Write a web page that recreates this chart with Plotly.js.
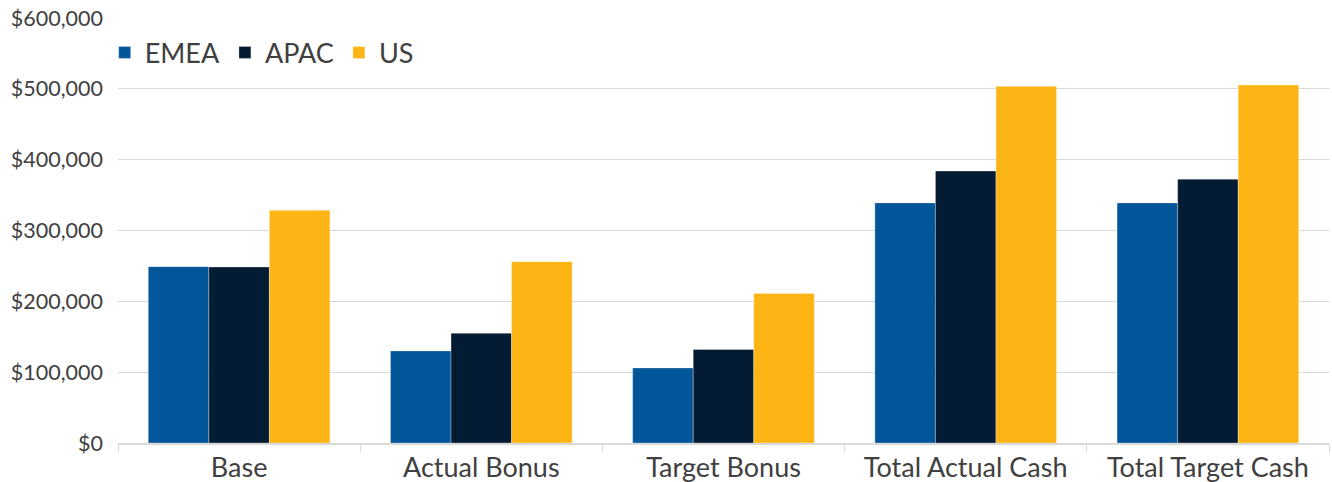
<!DOCTYPE html>
<html>
<head>
<meta charset="utf-8">
<script src="https://cdn.plot.ly/plotly-3.0.1.min.js"></script>
<style>html,body{margin:0;padding:0;background:#fff;}#chart{width:1332px;height:482px;}</style>
</head>
<body>
<div id="chart"></div>
<script>
const categories = ["Base", "Actual Bonus", "Target Bonus", "Total Actual Cash", "Total Target Cash"];
const seriesNames = ["EMEA", "APAC", "US"];
const emea = [249000, 130000, 106000, 339000, 339000];
const apac = [248500, 155000, 132000, 384000, 372500];
const us = [328500, 256000, 211000, 503500, 505500];
const yTickVals = [0, 100000, 200000, 300000, 400000, 500000, 600000];
const yTickText = ["$0", "$100,000", "$200,000", "$300,000", "$400,000", "$500,000", "$600,000"];
const colors = ["#04569A", "#041C33", "#FDB515"];

const values = [emea, apac, us];
const traces = seriesNames.map((n, i) => ({
  type: "bar",
  name: n,
  x: categories,
  y: values[i],
  marker: {color: colors[i], line: {color: "rgba(255,255,255,0.5)", width: 0.6}},
  hoverinfo: "x+y+name"
}));

const layout = {
  width: 1332, height: 482,
  margin: {l: 118, r: 3, t: 18, b: 39},
  paper_bgcolor: "#fff", plot_bgcolor: "#fff",
  font: {family: "Lato, 'Open Sans', sans-serif", color: "#404040"},
  barmode: "group",
  bargap: 0.25,
  bargroupgap: 0,
  showlegend: true,
  legend: {
    orientation: "h", x: -0.011, xanchor: "left", y: 0.918, yanchor: "middle",
    font: {size: 27, color: "#404040"}, itemwidth: 30, traceorder: "normal",
    bgcolor: "rgba(0,0,0,0)"
  },
  xaxis: {
    type: "category",
    showgrid: false,
    showline: true, linecolor: "#d9d9d9", linewidth: 1.5,
    ticks: "outside", tickson: "boundaries", ticklen: 7, tickcolor: "#d9d9d9", tickwidth: 1,
    tickfont: {size: 27, color: "#404040"},
    ticklabelstandoff: 0
  },
  yaxis: {
    range: [0, 600000],
    tickvals: yTickVals, ticktext: yTickText,
    showgrid: true, gridcolor: "#d9d9d9", gridwidth: 1,
    zeroline: false, showline: false,
    tickfont: {size: 21.5, color: "#404040"},
    ticklabelstandoff: 14
  }
};

Plotly.newPlot("chart", traces, layout, {displayModeBar: false, staticPlot: true});
</script>
</body>
</html>
